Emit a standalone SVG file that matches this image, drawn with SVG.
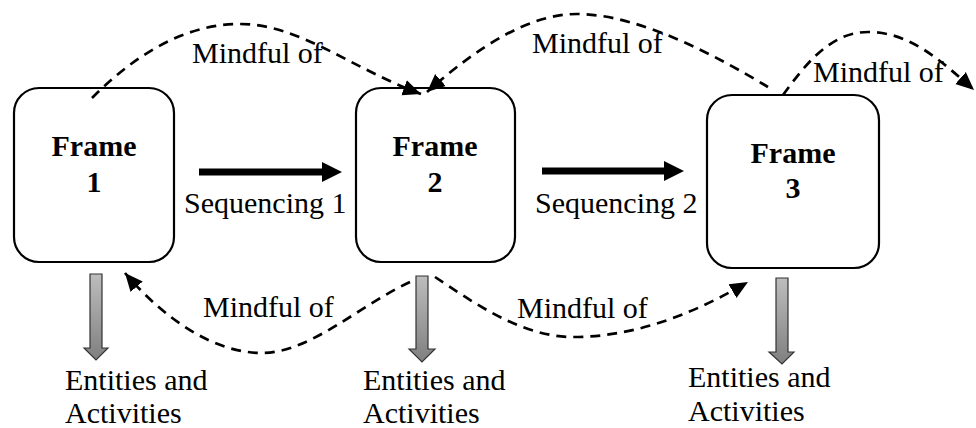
<svg xmlns="http://www.w3.org/2000/svg" width="976" height="428" viewBox="0 0 976 428">
<style>
.box{fill:#fff;stroke:#000;stroke-width:2.2}
.t{font-family:"Liberation Serif","Times New Roman",serif;font-size:30px;fill:#000}
.b{font-weight:bold;text-anchor:middle}
.dash{fill:none;stroke:#000;stroke-width:2.7;stroke-dasharray:10 7}
.seq{fill:#000}
.down{fill:url(#g);stroke:#333;stroke-width:1.2}
</style>
<defs>
<linearGradient id="g" x1="0" y1="0" x2="0" y2="1">
<stop offset="0" stop-color="#bdbdbd"/>
<stop offset="1" stop-color="#7f7f7f"/>
</linearGradient>
<marker id="ah" markerUnits="userSpaceOnUse" markerWidth="22" markerHeight="22" viewBox="0 0 22 22" refX="18" refY="11" orient="auto">
<path d="M0,3 L18,11 L0,19 Z" fill="#000"/>
</marker>
</defs>
<g id="frame1">
<rect class="box" x="14" y="88" width="160" height="174" rx="25"/>
<text class="t b" x="94" y="156">Frame</text>
<text class="t b" x="94" y="192">1</text>
</g>
<g id="frame2">
<rect class="box" x="356" y="88" width="159" height="174" rx="25"/>
<text class="t b" x="435" y="156">Frame</text>
<text class="t b" x="435" y="192">2</text>
</g>
<g id="frame3">
<rect class="box" x="707" y="95" width="172" height="173" rx="25"/>
<text class="t b" x="793" y="163">Frame</text>
<text class="t b" x="793" y="198">3</text>
</g>
<g id="ea1">
<path class="down" d="M90,274 H102 V348 H108 L96,360 L84,348 H90 Z"/>
<text class="t" x="65" y="390">Entities and</text>
<text class="t" x="65" y="423">Activities</text>
</g>
<g id="ea2">
<path class="down" d="M416,276 H428 V349 H435 L422,362 L409,349 H416 Z"/>
<text class="t" x="363" y="390">Entities and</text>
<text class="t" x="363" y="423">Activities</text>
</g>
<g id="ea3">
<path class="down" d="M776,278 H788 V352 H794 L782,364 L769,352 H776 Z"/>
<text class="t" x="688" y="387">Entities and</text>
<text class="t" x="688" y="421">Activities</text>
</g>
<g id="connectors">
<path class="seq" d="M199,168.5 H322 V162 L342,172 L322,182 V175.5 H199 Z"/>
<text class="t" x="184" y="213">Sequencing 1</text>
<path class="seq" d="M542,167.5 H664 V161 L684,171 L664,181 V174.5 H542 Z"/>
<text class="t" x="535" y="213">Sequencing 2</text>
<path class="dash" marker-end="url(#ah)" d="M92,98 C130,60 180,24 240,24 C300,24 350,68 421,94"/>
<text class="t" x="192" y="63">Mindful of</text>
<path class="dash" marker-end="url(#ah)" d="M768,87 C720,58 640,14 577,14 C530,14 480,45 427,92"/>
<text class="t" x="532" y="53">Mindful of</text>
<path class="dash" marker-end="url(#ah)" d="M783,95 C805,65 830,32 868,32 C910,32 940,60 974,90"/>
<text class="t" x="813" y="82">Mindful of</text>
<path class="dash" marker-end="url(#ah)" d="M410,282 C360,305 310,353 262,353 C215,353 165,320 125,273"/>
<text class="t" x="203" y="317">Mindful of</text>
<path class="dash" marker-end="url(#ah)" d="M435,277 C470,300 520,337 573,337 C640,337 700,310 748,282"/>
<text class="t" x="517" y="318">Mindful of</text>
</g>
</svg>
